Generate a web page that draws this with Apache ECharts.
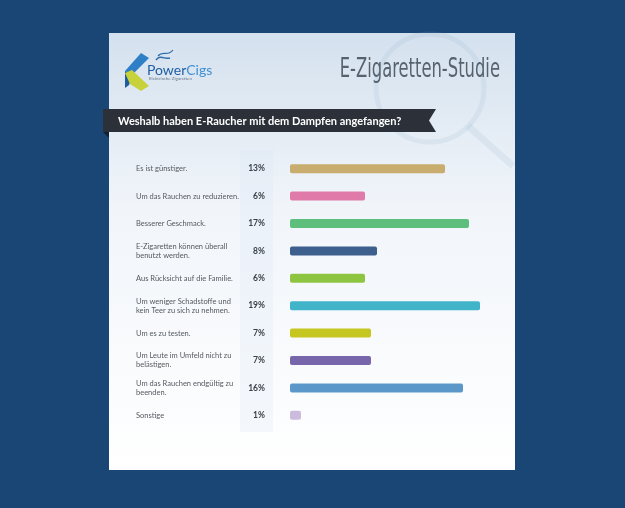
<!DOCTYPE html>
<html>
<head>
<meta charset="utf-8">
<script src="https://cdn.jsdelivr.net/npm/echarts@6/dist/echarts.min.js"></script>
<style>
html,body{margin:0;padding:0;background:#1a4676;}
#chart{width:625px;height:508px;}
</style>
</head>
<body>
<div id="chart"></div>
<script>
const categories = [
  'Es ist günstiger.',
  'Um das Rauchen zu reduzieren.',
  'Besserer Geschmack.',
  'E-Zigaretten können überall\nbenutzt werden.',
  'Aus Rücksicht auf die Familie.',
  'Um weniger Schadstoffe und\nkein Teer zu sich zu nehmen.',
  'Um es zu testen.',
  'Um Leute im Umfeld nicht zu\nbelästigen.',
  'Um das Rauchen endgültig zu\nbeenden.',
  'Sonstige'
];
const percents = [13, 6, 17, 8, 6, 19, 7, 7, 16, 1];
// bar lengths as drawn in the picture (not strictly proportional to the labels)
const barLengths = [15.5, 7.5, 17.9, 8.7, 7.5, 19.0, 8.1, 8.1, 17.3, 1.1];
const barColors = ['#c8ad6f', '#e07aa8', '#5dbf7b', '#3c5f8e', '#8dc540', '#41b4c9', '#c5c61f', '#7866aa', '#5c97c9', '#cbbbdd'];
const chartTitle = 'E-Zigaretten-Studie';
const question = 'Weshalb haben E-Raucher mit dem Dampfen angefangen?';

const chart = echarts.init(document.getElementById('chart'));
chart.setOption({
  backgroundColor: '#1a4676',
  animation: false,
  graphic: {
    elements: [
      { type: 'rect', z: -20, shape: { x: 109, y: 33, width: 406, height: 437 },
        style: { fill: new echarts.graphic.LinearGradient(0, 0, 0, 1, [
          { offset: 0, color: '#d4e1ee' }, { offset: 0.4, color: '#f1f5fa' }, { offset: 1, color: '#ffffff' }]) } },
      { type: 'circle', z: -19, shape: { cx: 430, cy: 88, r: 54 },
        style: { fill: 'none', stroke: 'rgba(150,178,205,0.16)', lineWidth: 5 } },
      { type: 'line', z: -19, shape: { x1: 468, y1: 126, x2: 513, y2: 166 },
        style: { stroke: 'rgba(150,178,205,0.16)', lineWidth: 7 } },
      { type: 'rect', z: -18, shape: { x: 240, y: 150, width: 33, height: 282 },
        style: { fill: 'rgba(215,228,244,0.22)' } },
      // logo
      { type: 'polygon', z: -5, shape: { points: [[141, 53], [149, 58], [133, 74], [125, 71]] }, style: { fill: '#2f7fc6' } },
      { type: 'polygon', z: -5, shape: { points: [[125, 71], [133, 74], [129, 85], [125, 88]] }, style: { fill: '#1f5c9c' } },
      { type: 'polygon', z: -4, shape: { points: [[125, 73], [132, 70], [149, 86], [141, 91], [130, 84]] }, style: { fill: '#c7d23a' } },
      { type: 'bezierCurve', z: -5, shape: { x1: 156, y1: 60, x2: 170, y2: 58, cpx1: 160, cpy1: 54, cpx2: 166, cpy2: 60 },
        style: { stroke: '#2f6fae', lineWidth: 1.5, fill: 'none' } },
      { type: 'bezierCurve', z: -5, shape: { x1: 158, y1: 56, x2: 173, y2: 50, cpx1: 163, cpy1: 50, cpx2: 168, cpy2: 57 },
        style: { stroke: '#2f6fae', lineWidth: 1.2, fill: 'none' } },
      { type: 'text', z: -5, style: { x: 147, y: 70, text: '{a|Power}{b|Cigs}', verticalAlign: 'middle',
        rich: { a: { fontFamily: 'Lato', fontSize: 14, fill: '#1f5ea6' }, b: { fontFamily: 'Lato', fontSize: 14, fill: '#3f8fd2' } } } },
      { type: 'text', z: -5, style: { x: 149, y: 79, text: 'Elektrische Zigaretten', fontFamily: 'Lato', fontSize: 4.5, fill: '#667788', verticalAlign: 'middle' } },
      // title
      { type: 'text', z: -5, x: 500, y: 70, scaleX: 0.7, scaleY: 1.05,
        style: { x: 0, y: 0, text: chartTitle, align: 'right', verticalAlign: 'middle',
        fontFamily: 'Liberation Sans Narrow, DejaVu Sans Condensed, sans-serif', fontSize: 26, fill: '#56636f' } },
      // banner
      { type: 'polygon', z: -5, shape: { points: [[103, 132], [109, 132], [109, 138]] }, style: { fill: '#0e2036' } },
      { type: 'polygon', z: -5, shape: { points: [[103, 109], [436, 109], [429, 120.5], [436, 132], [103, 132]] }, style: { fill: '#2c3139' } },
      { type: 'text', z: -4, style: { x: 118, y: 121, text: question, verticalAlign: 'middle',
        fontFamily: 'Lato', fontWeight: 'bold', fontSize: 11, fill: '#ffffff' } }
    ]
  },
  grid: { left: 290, top: 155, width: 200, height: 274, containLabel: false },
  xAxis: { type: 'value', min: 0, max: 20, show: false },
  yAxis: [
    { type: 'category', inverse: true, data: categories, position: 'left',
      axisLine: { show: false }, axisTick: { show: false }, splitLine: { show: false },
      axisLabel: { align: 'left', margin: 154, fontFamily: 'Lato', fontSize: 7.5, lineHeight: 9, color: '#555a60' } },
    { type: 'category', inverse: true, data: percents.map(v => v + '%'), position: 'left',
      axisLine: { show: false }, axisTick: { show: false }, splitLine: { show: false },
      axisLabel: { align: 'right', margin: 25, fontFamily: 'Lato', fontWeight: 'bold', fontSize: 8.5, color: '#3a3f45' } }
  ],
  series: [{
    type: 'bar', yAxisIndex: 0, barWidth: 9,
    data: barLengths.map((v, i) => ({ value: v, itemStyle: { color: barColors[i], borderRadius: 2 } }))
  }]
});
</script>
</body>
</html>
